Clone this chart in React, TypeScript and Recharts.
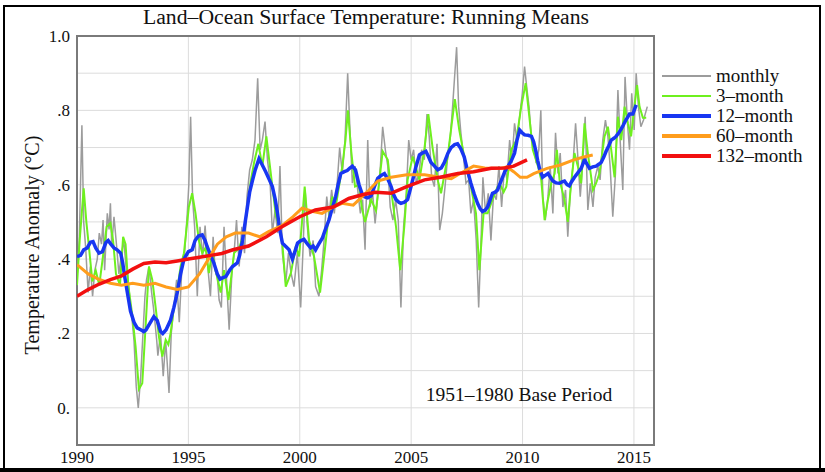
import { LineChart, Line, XAxis, YAxis, CartesianGrid, ReferenceArea } from 'recharts';

// axis ticks
const xTicks = [1990, 1995, 2000, 2005, 2010, 2015];
const yTicks = [-0.1, 0, 0.1, 0.2, 0.3, 0.4, 0.5, 0.6, 0.7, 0.8, 0.9, 1.0];

// series: [year, anomaly °C]
const monthly: [number, number][] = [
  [1990.0, 0.35], [1990.1, 0.45], [1990.22, 0.76], [1990.3, 0.5], [1990.39, 0.43], [1990.5, 0.31],
  [1990.6, 0.38], [1990.7, 0.3], [1990.8, 0.37], [1990.91, 0.4], [1991.0, 0.47], [1991.1, 0.44],
  [1991.17, 0.505], [1991.24, 0.37], [1991.36, 0.523], [1991.44, 0.48], [1991.5, 0.55], [1991.56, 0.434],
  [1991.66, 0.514], [1991.78, 0.434], [1991.88, 0.36], [1992.0, 0.416], [1992.1, 0.45], [1992.2, 0.38],
  [1992.27, 0.36], [1992.41, 0.27], [1992.5, 0.22], [1992.56, 0.18], [1992.66, 0.057], [1992.75, 0.0],
  [1992.86, 0.085], [1992.97, 0.21], [1993.05, 0.3], [1993.12, 0.344], [1993.23, 0.38], [1993.35, 0.31],
  [1993.43, 0.27], [1993.5, 0.23], [1993.58, 0.18], [1993.63, 0.14], [1993.75, 0.2], [1993.87, 0.085],
  [1993.98, 0.18], [1994.05, 0.12], [1994.13, 0.04], [1994.23, 0.2], [1994.35, 0.27], [1994.47, 0.344],
  [1994.59, 0.23], [1994.71, 0.38], [1994.83, 0.416], [1994.95, 0.523], [1995.02, 0.6], [1995.1, 0.783],
  [1995.19, 0.56], [1995.28, 0.487], [1995.4, 0.3], [1995.52, 0.487], [1995.64, 0.407], [1995.75, 0.49],
  [1995.87, 0.38], [1995.99, 0.3], [1996.11, 0.46], [1996.2, 0.37], [1996.3, 0.35], [1996.38, 0.29],
  [1996.48, 0.27], [1996.6, 0.487], [1996.7, 0.36], [1996.83, 0.21], [1996.95, 0.36], [1997.05, 0.416],
  [1997.16, 0.505], [1997.28, 0.38], [1997.4, 0.487], [1997.52, 0.416], [1997.63, 0.568], [1997.75, 0.64],
  [1997.87, 0.667], [1997.99, 0.72], [1998.11, 0.886], [1998.22, 0.694], [1998.32, 0.72], [1998.44, 0.77],
  [1998.55, 0.667], [1998.67, 0.604], [1998.77, 0.47], [1998.89, 0.532], [1999.01, 0.47], [1999.11, 0.65],
  [1999.22, 0.416], [1999.37, 0.335], [1999.49, 0.416], [1999.61, 0.362], [1999.74, 0.326], [1999.89, 0.416],
  [2000.04, 0.27], [2000.15, 0.434], [2000.24, 0.586], [2000.34, 0.487], [2000.46, 0.407], [2000.6, 0.45],
  [2000.71, 0.326], [2000.86, 0.3], [2000.98, 0.37], [2001.09, 0.45], [2001.21, 0.568], [2001.31, 0.514],
  [2001.43, 0.586], [2001.55, 0.523], [2001.69, 0.613], [2001.79, 0.7], [2001.91, 0.63], [2002.03, 0.72],
  [2002.15, 0.9], [2002.24, 0.765], [2002.36, 0.604], [2002.48, 0.65], [2002.6, 0.586], [2002.72, 0.523],
  [2002.82, 0.56], [2002.93, 0.425], [2003.05, 0.72], [2003.15, 0.54], [2003.27, 0.577], [2003.38, 0.496],
  [2003.5, 0.568], [2003.62, 0.65], [2003.72, 0.756], [2003.84, 0.694], [2003.95, 0.65], [2004.06, 0.54],
  [2004.18, 0.505], [2004.3, 0.56], [2004.42, 0.505], [2004.54, 0.27], [2004.66, 0.487], [2004.78, 0.577],
  [2004.89, 0.72], [2005.0, 0.667], [2005.11, 0.694], [2005.23, 0.604], [2005.35, 0.63], [2005.47, 0.694],
  [2005.59, 0.667], [2005.71, 0.79], [2005.81, 0.73], [2005.92, 0.62], [2006.04, 0.595], [2006.16, 0.71],
  [2006.28, 0.478], [2006.4, 0.523], [2006.52, 0.595], [2006.64, 0.676], [2006.76, 0.73], [2006.86, 0.81],
  [2006.96, 0.9], [2007.04, 0.97], [2007.13, 0.81], [2007.23, 0.74], [2007.35, 0.676], [2007.46, 0.604],
  [2007.58, 0.613], [2007.68, 0.523], [2007.8, 0.56], [2007.92, 0.45], [2008.03, 0.27], [2008.13, 0.434],
  [2008.22, 0.62], [2008.34, 0.523], [2008.46, 0.577], [2008.58, 0.45], [2008.7, 0.577], [2008.82, 0.56],
  [2008.94, 0.65], [2009.06, 0.54], [2009.19, 0.65], [2009.3, 0.613], [2009.42, 0.72], [2009.52, 0.658],
  [2009.64, 0.765], [2009.75, 0.72], [2009.87, 0.783], [2009.99, 0.846], [2010.09, 0.918], [2010.2, 0.855],
  [2010.29, 0.81], [2010.39, 0.73], [2010.5, 0.72], [2010.61, 0.658], [2010.73, 0.694], [2010.82, 0.8],
  [2010.91, 0.568], [2011.02, 0.505], [2011.14, 0.568], [2011.24, 0.65], [2011.36, 0.523], [2011.48, 0.74],
  [2011.59, 0.63], [2011.69, 0.685], [2011.81, 0.54], [2011.93, 0.586], [2012.03, 0.46], [2012.14, 0.577],
  [2012.26, 0.65], [2012.38, 0.765], [2012.48, 0.676], [2012.59, 0.568], [2012.71, 0.667], [2012.81, 0.783],
  [2012.93, 0.532], [2013.04, 0.604], [2013.16, 0.54], [2013.26, 0.62], [2013.38, 0.65], [2013.48, 0.613],
  [2013.6, 0.72], [2013.72, 0.774], [2013.83, 0.73], [2013.93, 0.65], [2014.05, 0.514], [2014.17, 0.63],
  [2014.28, 0.855], [2014.38, 0.72], [2014.5, 0.586], [2014.6, 0.89], [2014.71, 0.765], [2014.8, 0.694],
  [2014.9, 0.846], [2015.01, 0.747], [2015.1, 0.9], [2015.2, 0.81], [2015.31, 0.756], [2015.43, 0.774],
  [2015.6, 0.81],
];

const threeMonth: [number, number][] = [
  [1990.0, 0.33], [1990.12, 0.45], [1990.3, 0.59], [1990.42, 0.5], [1990.54, 0.43], [1990.69, 0.34],
  [1990.84, 0.37], [1991.0, 0.33], [1991.15, 0.4], [1991.33, 0.487], [1991.5, 0.497], [1991.62, 0.45],
  [1991.75, 0.36], [1991.93, 0.33], [1992.07, 0.46], [1992.18, 0.44], [1992.3, 0.33], [1992.48, 0.25],
  [1992.63, 0.165], [1992.78, 0.05], [1992.93, 0.066], [1993.08, 0.22], [1993.23, 0.38], [1993.38, 0.344],
  [1993.53, 0.27], [1993.68, 0.19], [1993.83, 0.138], [1993.98, 0.183], [1994.1, 0.17], [1994.2, 0.2],
  [1994.35, 0.27], [1994.5, 0.317], [1994.65, 0.38], [1994.8, 0.416], [1995.02, 0.54], [1995.17, 0.577],
  [1995.32, 0.523], [1995.47, 0.45], [1995.62, 0.416], [1995.77, 0.43], [1995.92, 0.362], [1996.07, 0.42],
  [1996.22, 0.37], [1996.45, 0.31], [1996.6, 0.37], [1996.8, 0.29], [1997.05, 0.416], [1997.28, 0.43],
  [1997.5, 0.47], [1997.8, 0.61], [1997.95, 0.66], [1998.14, 0.71], [1998.32, 0.65], [1998.5, 0.73],
  [1998.7, 0.63], [1998.92, 0.52], [1999.07, 0.49], [1999.22, 0.44], [1999.37, 0.326], [1999.6, 0.362],
  [1999.82, 0.434], [1999.97, 0.407], [2000.1, 0.5], [2000.22, 0.595], [2000.42, 0.45], [2000.64, 0.407],
  [2000.91, 0.31], [2001.01, 0.362], [2001.24, 0.487], [2001.46, 0.568], [2001.61, 0.54], [2001.91, 0.65],
  [2002.05, 0.72], [2002.16, 0.8], [2002.31, 0.69], [2002.48, 0.595], [2002.66, 0.6], [2002.78, 0.54],
  [2002.93, 0.5], [2003.2, 0.56], [2003.42, 0.53], [2003.72, 0.69], [2003.95, 0.667], [2004.1, 0.586],
  [2004.32, 0.487], [2004.51, 0.37], [2004.69, 0.487], [2004.84, 0.613], [2005.07, 0.676], [2005.37, 0.613],
  [2005.59, 0.694], [2005.77, 0.79], [2005.96, 0.7], [2006.19, 0.613], [2006.34, 0.577], [2006.64, 0.676],
  [2006.96, 0.83], [2007.16, 0.747], [2007.38, 0.676], [2007.68, 0.595], [2007.91, 0.523], [2008.06, 0.37],
  [2008.25, 0.523], [2008.43, 0.523], [2008.65, 0.56], [2008.88, 0.595], [2009.0, 0.6], [2009.15, 0.58],
  [2009.27, 0.595], [2009.49, 0.694], [2009.72, 0.72], [2009.94, 0.81], [2010.14, 0.873], [2010.32, 0.774],
  [2010.46, 0.694], [2010.69, 0.65], [2010.84, 0.613], [2010.99, 0.505], [2011.14, 0.56], [2011.29, 0.604],
  [2011.44, 0.63], [2011.54, 0.694], [2011.66, 0.613], [2011.88, 0.56], [2012.03, 0.5], [2012.18, 0.604],
  [2012.33, 0.685], [2012.48, 0.65], [2012.63, 0.604], [2012.78, 0.765], [2012.93, 0.685], [2013.16, 0.586],
  [2013.3, 0.604], [2013.45, 0.63], [2013.68, 0.73], [2013.83, 0.756], [2013.98, 0.694], [2014.13, 0.62],
  [2014.28, 0.783], [2014.43, 0.72], [2014.58, 0.81], [2014.73, 0.765], [2014.87, 0.73], [2015.02, 0.81],
  [2015.14, 0.868], [2015.25, 0.81], [2015.4, 0.78], [2015.55, 0.78],
];

const twelveMonth: [number, number][] = [
  [1990.0, 0.407], [1990.16, 0.41], [1990.3, 0.425], [1990.46, 0.43], [1990.6, 0.445], [1990.72, 0.447],
  [1990.84, 0.43], [1990.99, 0.416], [1991.14, 0.42], [1991.3, 0.445], [1991.4, 0.45], [1991.52, 0.44],
  [1991.66, 0.43], [1991.8, 0.425], [1991.96, 0.416], [1992.05, 0.39], [1992.15, 0.35], [1992.26, 0.31],
  [1992.4, 0.26], [1992.56, 0.23], [1992.7, 0.215], [1992.86, 0.21], [1993.0, 0.205], [1993.1, 0.21],
  [1993.25, 0.225], [1993.45, 0.245], [1993.6, 0.235], [1993.75, 0.205], [1993.85, 0.2], [1994.0, 0.21],
  [1994.2, 0.236], [1994.35, 0.27], [1994.5, 0.31], [1994.65, 0.36], [1994.8, 0.4], [1995.0, 0.42],
  [1995.17, 0.425], [1995.3, 0.45], [1995.45, 0.462], [1995.62, 0.465], [1995.75, 0.45], [1995.84, 0.434],
  [1996.0, 0.41], [1996.14, 0.39], [1996.3, 0.36], [1996.42, 0.346], [1996.55, 0.35], [1996.68, 0.353],
  [1996.85, 0.37], [1996.98, 0.38], [1997.2, 0.39], [1997.3, 0.41], [1997.43, 0.45], [1997.55, 0.5],
  [1997.65, 0.54], [1997.75, 0.58], [1997.87, 0.61], [1998.0, 0.64], [1998.17, 0.67], [1998.3, 0.655],
  [1998.47, 0.635], [1998.62, 0.615], [1998.77, 0.595], [1998.9, 0.56], [1999.0, 0.523], [1999.1, 0.48],
  [1999.22, 0.443], [1999.35, 0.435], [1999.52, 0.425], [1999.67, 0.4], [1999.78, 0.42], [1999.9, 0.443],
  [2000.05, 0.45], [2000.19, 0.453], [2000.35, 0.44], [2000.49, 0.43], [2000.6, 0.435], [2000.71, 0.425],
  [2000.85, 0.44], [2001.01, 0.456], [2001.15, 0.48], [2001.31, 0.505], [2001.45, 0.535], [2001.61, 0.568],
  [2001.72, 0.6], [2001.84, 0.63], [2002.0, 0.635], [2002.13, 0.638], [2002.25, 0.645], [2002.36, 0.65],
  [2002.5, 0.64], [2002.66, 0.6], [2002.8, 0.575], [2002.9, 0.568], [2003.05, 0.565], [2003.2, 0.57],
  [2003.35, 0.595], [2003.5, 0.617], [2003.65, 0.625], [2003.8, 0.63], [2003.95, 0.615], [2004.1, 0.595],
  [2004.2, 0.575], [2004.32, 0.56], [2004.45, 0.553], [2004.54, 0.55], [2004.7, 0.553], [2004.84, 0.56],
  [2004.95, 0.585], [2005.07, 0.613], [2005.2, 0.645], [2005.37, 0.68], [2005.5, 0.685], [2005.66, 0.69],
  [2005.78, 0.675], [2005.89, 0.66], [2006.05, 0.65], [2006.19, 0.64], [2006.35, 0.645], [2006.49, 0.66],
  [2006.65, 0.685], [2006.79, 0.7], [2006.95, 0.708], [2007.08, 0.71], [2007.22, 0.698], [2007.38, 0.675],
  [2007.52, 0.64], [2007.68, 0.604], [2007.83, 0.575], [2007.98, 0.55], [2008.1, 0.535], [2008.2, 0.528],
  [2008.32, 0.532], [2008.43, 0.54], [2008.55, 0.56], [2008.65, 0.577], [2008.77, 0.58], [2008.88, 0.586],
  [2008.97, 0.6], [2009.1, 0.62], [2009.2, 0.635], [2009.35, 0.65], [2009.5, 0.665], [2009.64, 0.685],
  [2009.75, 0.72], [2009.87, 0.747], [2009.98, 0.74], [2010.09, 0.734], [2010.25, 0.733], [2010.4, 0.73],
  [2010.5, 0.715], [2010.6, 0.69], [2010.68, 0.665], [2010.76, 0.644], [2010.9, 0.62], [2011.02, 0.625],
  [2011.14, 0.63], [2011.25, 0.62], [2011.36, 0.61], [2011.5, 0.605], [2011.66, 0.604], [2011.78, 0.608],
  [2011.88, 0.61], [2012.0, 0.6], [2012.1, 0.597], [2012.2, 0.608], [2012.33, 0.62], [2012.48, 0.632],
  [2012.63, 0.644], [2012.78, 0.667], [2012.9, 0.655], [2013.0, 0.644], [2013.15, 0.648], [2013.3, 0.65],
  [2013.42, 0.655], [2013.53, 0.66], [2013.65, 0.675], [2013.75, 0.69], [2013.87, 0.705], [2013.98, 0.72],
  [2014.1, 0.725], [2014.2, 0.73], [2014.32, 0.74], [2014.43, 0.75], [2014.52, 0.76], [2014.6, 0.77],
  [2014.7, 0.78], [2014.8, 0.79], [2014.95, 0.79], [2015.1, 0.815],
];

const sixtyMonth: [number, number][] = [
  [1990.0, 0.385], [1990.5, 0.36], [1991.0, 0.345], [1991.5, 0.335], [1992.0, 0.33], [1992.5, 0.335],
  [1993.0, 0.33], [1993.5, 0.335], [1994.0, 0.325], [1994.5, 0.318], [1995.0, 0.325], [1995.5, 0.36],
  [1996.0, 0.41], [1996.3, 0.44], [1996.7, 0.46], [1997.1, 0.47], [1997.7, 0.47], [1998.2, 0.46],
  [1998.6, 0.474], [1999.2, 0.49], [1999.7, 0.514], [2000.1, 0.537], [2000.6, 0.528], [2001.0, 0.523],
  [2001.5, 0.54], [2001.9, 0.55], [2002.4, 0.545], [2002.8, 0.568], [2003.1, 0.585], [2003.5, 0.61],
  [2004.1, 0.62], [2004.8, 0.627], [2005.6, 0.627], [2006.3, 0.62], [2006.8, 0.616], [2007.1, 0.627],
  [2007.8, 0.65], [2008.3, 0.645], [2009.0, 0.644], [2009.3, 0.648], [2009.6, 0.635], [2009.9, 0.62],
  [2010.2, 0.62], [2010.5, 0.63], [2011.1, 0.644], [2011.7, 0.653], [2012.3, 0.667], [2012.7, 0.674],
  [2013.15, 0.68],
];

const oneThirtyTwoMonth: [number, number][] = [
  [1990.0, 0.3], [1990.5, 0.318], [1991.0, 0.333], [1991.5, 0.345], [1992.0, 0.355], [1992.5, 0.373],
  [1993.0, 0.388], [1993.5, 0.392], [1994.0, 0.39], [1994.5, 0.395], [1995.0, 0.4], [1995.5, 0.405],
  [1996.0, 0.41], [1996.5, 0.415], [1997.0, 0.425], [1997.7, 0.435], [1998.5, 0.46], [1999.2, 0.487],
  [2000.0, 0.514], [2000.7, 0.532], [2001.5, 0.54], [2002.2, 0.563], [2002.8, 0.573], [2003.4, 0.58],
  [2004.1, 0.577], [2004.8, 0.595], [2005.6, 0.613], [2006.3, 0.62], [2007.1, 0.63], [2007.8, 0.635],
  [2008.6, 0.644], [2009.2, 0.645], [2009.6, 0.65], [2010.2, 0.667],
];

const series = [
  { name: 'monthly', points: monthly, color: '#9c9c9c', width: 1.5, legendWidth: 2 },
  { name: '3\u2013month', points: threeMonth, color: '#6ef01e', width: 2, legendWidth: 2 },
  { name: '12\u2013month', points: twelveMonth, color: '#1836f2', width: 3.5, legendWidth: 4 },
  { name: '60\u2013month', points: sixtyMonth, color: '#ff9d1c', width: 3, legendWidth: 4 },
  { name: '132\u2013month', points: oneThirtyTwoMonth, color: '#f21010', width: 3.5, legendWidth: 4 },
];

const toRows = (pts: [number, number][]) => pts.map(([t, v]) => ({ t, v }));

const fmtY = (v: number) => {
  const r = Math.round(v * 10);
  if (r < 0 || r % 2 !== 0) return '';
  if (r === 10) return '1.0';
  if (r === 0) return '0.';
  return '.' + r;
};

const FONT = '"Liberation Serif", "Times New Roman", serif';

export default function App() {
  return (
    <div style={{ position: 'absolute', left: 0, top: 0, width: 825, height: 472, background: '#fff', fontFamily: FONT }}>
      <LineChart width={825} height={472} margin={{ top: 36, right: 171, bottom: 5, left: 37 }}>
        <CartesianGrid stroke="#dcdcdc" horizontalValues={yTicks} verticalValues={xTicks} />
        <XAxis
          type="number"
          dataKey="t"
          domain={[1990, 2015.9]}
          allowDataOverflow
          ticks={xTicks}
          height={22}
          tickSize={0}
          tickMargin={6}
          axisLine={false}
          tickLine={false}
          tick={{ fontSize: 17, fill: '#111', fontFamily: FONT }}
        />
        <YAxis
          type="number"
          domain={[-0.1, 1.0]}
          allowDataOverflow
          ticks={yTicks}
          tickFormatter={fmtY}
          width={40}
          tickSize={0}
          tickMargin={7}
          axisLine={false}
          tickLine={false}
          tick={{ fontSize: 17, fill: '#111', fontFamily: FONT }}
        />
        <ReferenceArea x1={1990} x2={2015.9} y1={-0.1} y2={1.0} fill="none" fillOpacity={0} stroke="#7a7a7a" strokeWidth={2} />
        {series.map((s) => (
          <Line
            key={s.name}
            data={toRows(s.points)}
            dataKey="v"
            type="linear"
            stroke={s.color}
            strokeWidth={s.width}
            dot={false}
            activeDot={false}
            isAnimationActive={false}
          />
        ))}
      </LineChart>

      <svg width={825} height={472} style={{ position: 'absolute', left: 0, top: 0, pointerEvents: 'none' }}>
        {/* outer frame */}
        <line x1={4} y1={6} x2={4} y2={472} stroke="#000" strokeWidth={2} />
        <line x1={3} y1={6} x2={821} y2={6} stroke="#000" strokeWidth={2} />
        <line x1={820} y1={6} x2={820} y2={472} stroke="#000" strokeWidth={2} />
        <line x1={0} y1={470} x2={825} y2={470} stroke="#000" strokeWidth={4} />

        <text x={366} y={24} textAnchor="middle" fontSize={20} fontFamily={FONT} fill="#111" textLength={446} lengthAdjust="spacingAndGlyphs">
          Land–Ocean Surface Temperature: Running Means
        </text>
        <text x={39} y={245} textAnchor="middle" fontSize={20} fontFamily={FONT} fill="#111" transform="rotate(-90 39 245)">
          Temperature Anomaly (°C)
        </text>
        <text x={519} y={401} textAnchor="middle" fontSize={19.5} fontFamily={FONT} fill="#111">
          1951–1980 Base Period
        </text>

        {/* legend */}
        {series.map((s, i) => (
          <g key={s.name}>
            <line x1={662} x2={711} y1={76 + i * 20} y2={76 + i * 20} stroke={s.color} strokeWidth={s.legendWidth} />
            <text x={716} y={82 + i * 20} fontSize={19} fontFamily={FONT} fill="#111">{s.name}</text>
          </g>
        ))}
      </svg>
    </div>
  );
}
